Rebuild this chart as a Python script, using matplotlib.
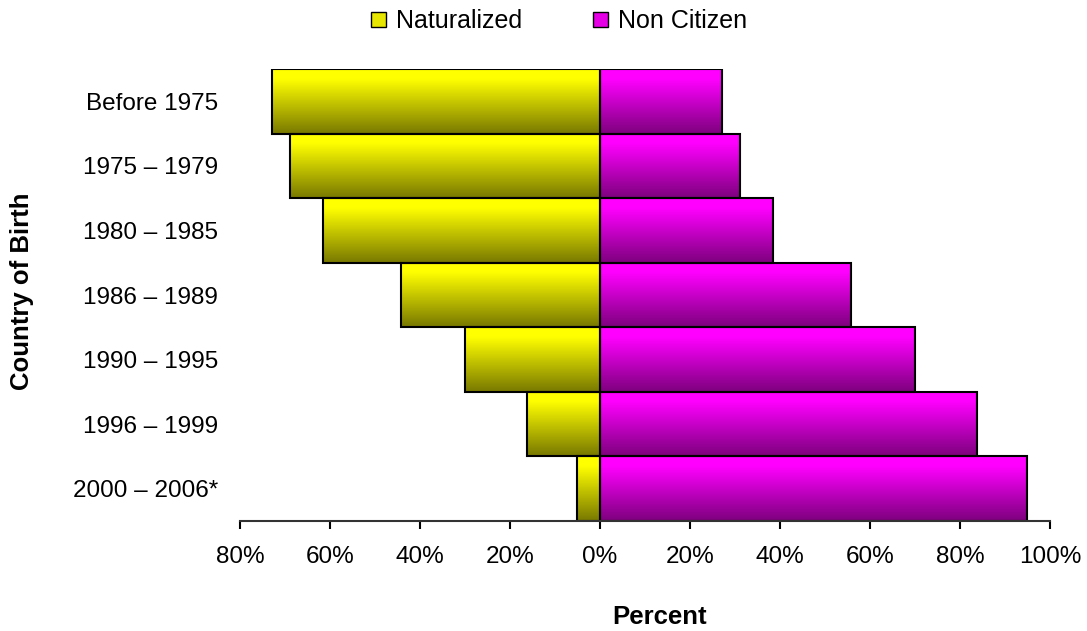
import matplotlib
matplotlib.use("Agg")
import matplotlib.pyplot as plt
import numpy as np
from matplotlib.colors import LinearSegmentedColormap
from matplotlib.patches import Patch
from matplotlib.ticker import FuncFormatter

plt.rcParams['font.family'] = ['Liberation Sans', 'DejaVu Sans']

categories = ["Before 1975", "1975 \u2013 1979", "1980 \u2013 1985", "1986 \u2013 1989",
              "1990 \u2013 1995", "1996 \u2013 1999", "2000 \u2013 2006*"]
naturalized = [72.8, 68.8, 61.6, 44.3, 30.0, 16.3, 5.2]
non_citizen = [27.2, 31.2, 38.4, 55.7, 70.0, 83.7, 94.8]
x_ticks = [-80, -60, -40, -20, 0, 20, 40, 60, 80, 100]

fig = plt.figure(figsize=(10.87, 6.31), dpi=100)
ax = fig.add_axes([240/1087, 1-521/631, 810/1087, 452/631])

cmap_nat = LinearSegmentedColormap.from_list(
    "nat", [(0.0, (0.47, 0.47, 0.0)), (0.85, (1.0, 1.0, 0.0)), (1.0, (1.0, 1.0, 0.0))])
cmap_non = LinearSegmentedColormap.from_list(
    "non", [(0.0, (0.49, 0.0, 0.49)), (0.85, (1.0, 0.0, 1.0)), (1.0, (1.0, 0.0, 1.0))])
grad = np.linspace(0, 1, 256).reshape(-1, 1)

n = len(categories)
ypos = np.arange(n)[::-1]

for y, nat, non in zip(ypos, naturalized, non_citizen):
    ax.imshow(grad, extent=[-nat, 0, y - 0.5, y + 0.5], origin='lower', aspect='auto',
              cmap=cmap_nat, zorder=1, interpolation='bilinear')
    ax.imshow(grad, extent=[0, non, y - 0.5, y + 0.5], origin='lower', aspect='auto',
              cmap=cmap_non, zorder=1, interpolation='bilinear')

ax.barh(ypos, [-v for v in naturalized], height=1.0, facecolor='none', edgecolor='black',
        linewidth=1.5, zorder=2)
ax.barh(ypos, non_citizen, height=1.0, facecolor='none', edgecolor='black',
        linewidth=1.5, zorder=2)

ax.set_xlim(-80, 100)
ax.set_ylim(-0.5, n - 0.5)
ax.set_xticks(x_ticks)
ax.xaxis.set_major_formatter(FuncFormatter(lambda v, p: f"{abs(int(round(v)))}%"))
ax.set_yticks(ypos)
ax.set_yticklabels(categories)
ax.tick_params(axis='y', length=0, labelsize=17.5, pad=16)
ax.tick_params(axis='x', direction='out', length=6, width=1.5, labelsize=17.5, pad=12, color='black')

for s in ['top', 'right', 'left']:
    ax.spines[s].set_visible(False)
ax.spines['bottom'].set_linewidth(1.5)
ax.spines['bottom'].set_color('#333333')

ax.set_xlabel("Percent", fontsize=18.5, fontweight='bold', va='center')
ax.xaxis.set_label_coords((660 - 240) / 810, (521 - 617) / 452)
ax.set_ylabel("Country of Birth", fontsize=18.5, fontweight='bold', va='center')
ax.yaxis.set_label_coords((22 - 240) / 810, (521 - 291) / 452)

handles = [Patch(facecolor='#e6e600', edgecolor='black', label='Naturalized'),
           Patch(facecolor='#e600e6', edgecolor='black', label='Non Citizen')]
fig.legend(handles=handles, loc='upper center', bbox_to_anchor=(559/1087, 1.005), ncol=2,
           frameon=False, fontsize=18, handlelength=0.6, handleheight=0.6,
           handletextpad=0.4, columnspacing=2.85, borderaxespad=0.1)

fig.savefig("out.png", dpi=100)
